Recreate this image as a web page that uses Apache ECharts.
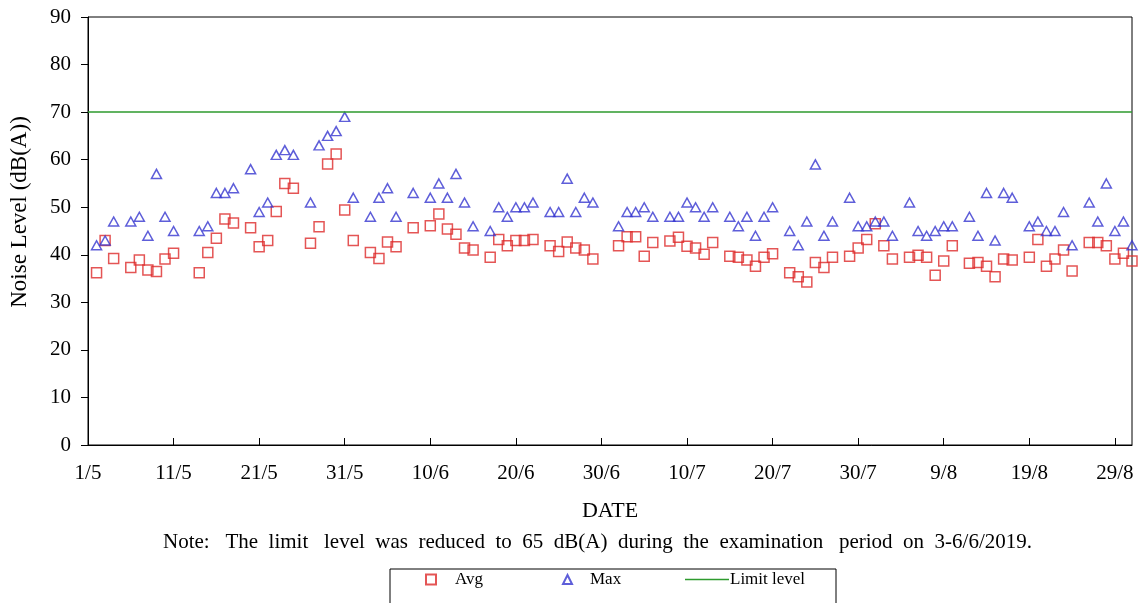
<!DOCTYPE html>
<html lang="en">
    <head>
        <meta charset="UTF-8">
        <script src="https://cdn.jsdelivr.net/npm/echarts@6/dist/echarts.min.js"></script>
        <title>Noise Level</title>
        <style>
            html, body { margin: 0; padding: 0; background: #fff; }
        </style>
    </head>
    <body>
        <div id="chart-container" style="width: 1141px; height: 603px;"></div>

        <script>
            // day offset from 1/5 (index) -> reading, null = no measurement that day
            const avgLevel = [
                null, 36.2, 43.0, 39.2, null, 37.3, 38.9, 36.8, 36.5, 39.1,
                40.3, null, null, 36.2, 40.5, 43.5, 47.5, 46.7, null, 45.7,
                41.7, 43.0, 49.1, 55.0, 54.0, null, 42.4, 45.9, 59.1, 61.2,
                49.4, 43.0, null, 40.5, 39.2, 42.7, 41.7, null, 45.7, null,
                46.1, 48.6, 45.4, 44.3, 41.4, 41.0, null, 39.5, 43.2, 41.9,
                43.0, 43.0, 43.2, null, 41.9, 40.7, 42.7, 41.4, 41.0, 39.1,
                null, null, 41.9, 43.8, 43.8, 39.7, 42.6, null, 42.9, 43.7,
                41.8, 41.4, 40.1, 42.6, null, 39.7, 39.5, 38.9, 37.6, 39.5,
                40.2, null, 36.2, 35.4, 34.3, 38.4, 37.3, 39.5, null, 39.7,
                41.4, 43.2, 46.5, 41.9, 39.1, null, 39.5, 39.9, 39.5, 35.7,
                38.7, 41.9, null, 38.2, 38.4, 37.6, 35.4, 39.1, 38.9, null,
                39.5, 43.2, 37.6, 39.1, 41.0, 36.6, null, 42.6, 42.6, 41.9,
                39.1, 40.3, 38.7
            ];
            const maxLevel = [
                null, 42, 43, 47, null, 47, 48, 44, 57, 48,
                45, null, null, 45, 46, 53, 53, 54, null, 58,
                49, 51, 61, 62, 61, null, 51, 63, 65, 66,
                69, 52, null, 48, 52, 54, 48, null, 53, null,
                52, 55, 52, 57, 51, 46, null, 45, 50, 48,
                50, 50, 51, null, 49, 49, 56, 49, 52, 51,
                null, null, 46, 49, 49, 50, 48, null, 48, 48,
                51, 50, 48, 50, null, 48, 46, 48, 44, 48,
                50, null, 45, 42, 47, 59, 44, 47, null, 52,
                46, 46, 47, 47, 44, null, 51, 45, 44, 45,
                46, 46, null, 48, 44, 53, 43, 53, 52, null,
                46, 47, 45, 45, 49, 42, null, 51, 47, 55,
                45, 47, 42
            ];
            const limitLevel = 70;
            const tickLabels = ['1/5', '11/5', '21/5', '31/5', '10/6', '20/6', '30/6',
                                '10/7', '20/7', '30/7', '9/8', '19/8', '29/8'];
            const lastDay = avgLevel.length - 1;

            const toPoints = arr => arr.map((v, i) => [i, v]).filter(p => p[1] !== null);
            const limitData = avgLevel.map((v, i) => [i, limitLevel]);

            const serif = '"Liberation Serif", "Times New Roman", serif';

            const chart = echarts.init(document.getElementById('chart-container'));
            const options = {
                animation: false,
                grid: {
                    left: 88, right: 9, top: 17, bottom: 158,
                    show: true, borderColor: '#000', borderWidth: 1
                },
                xAxis: {
                    type: 'value',
                    min: 0, max: lastDay, interval: 10,
                    name: 'DATE',
                    nameLocation: 'middle',
                    nameGap: 55,
                    nameTextStyle: { fontFamily: serif, fontSize: 22, color: '#000' },
                    axisLine: { lineStyle: { color: '#000' } },
                    axisTick: { inside: true, length: 7, lineStyle: { color: '#000' } },
                    axisLabel: {
                        fontFamily: serif, fontSize: 21, color: '#000', margin: 18,
                        showMaxLabel: false,
                        formatter: v => (v % 10 === 0 ? tickLabels[v / 10] : '')
                    },
                    splitLine: { show: false }
                },
                yAxis: {
                    type: 'value',
                    min: 0, max: 90, interval: 10,
                    axisLine: { show: true, lineStyle: { color: '#000' } },
                    axisTick: { show: true, length: 7, lineStyle: { color: '#000' } },
                    axisLabel: { fontFamily: serif, fontSize: 21, color: '#000', margin: 17 },
                    splitLine: { show: false }
                },
                title: {
                    text: 'Note:   The  limit   level  was  reduced  to  65  dB(A)  during  the  examination   period  on  3-6/6/2019.',
                    left: 158,
                    top: 527,
                    textStyle: { fontFamily: serif, fontSize: 21, fontWeight: 'normal', color: '#000' }
                },
                legend: [{
                    data: ['Avg'], left: 420, top: 566,
                    itemWidth: 10, itemHeight: 10,
                    textStyle: { fontFamily: serif, fontSize: 17, color: '#000', padding: [0, 0, 0, 14] }
                }, {
                    data: ['Max'], left: 557, top: 566,
                    itemWidth: 9, itemHeight: 9,
                    textStyle: { fontFamily: serif, fontSize: 17, color: '#000', padding: [0, 0, 0, 13] }
                }, {
                    data: [{ name: 'Limit level', icon: 'rect' }], left: 680, top: 566,
                    itemWidth: 44, itemHeight: 1.5, symbolKeepAspect: false,
                    textStyle: { fontFamily: serif, fontSize: 17, color: '#000', padding: [0, 0, 0, -4] }
                }],
                graphic: [{
                    type: 'rect',
                    shape: { x: 390, y: 569, width: 446, height: 45 },
                    style: { fill: 'none', stroke: '#000', lineWidth: 1 },
                    silent: true
                }, {
                    type: 'text',
                    x: 20, y: 212,
                    rotation: Math.PI / 2,
                    style: {
                        text: 'Noise Level (dB(A))',
                        font: '23px ' + serif,
                        fill: '#000',
                        align: 'center',
                        verticalAlign: 'middle'
                    }
                }],
                series: [{
                    name: 'Avg',
                    type: 'scatter',
                    data: toPoints(avgLevel),
                    symbol: 'rect',
                    symbolSize: 10,
                    itemStyle: { color: 'transparent', borderColor: '#dd2a2a', borderWidth: 1.5 }
                }, {
                    name: 'Max',
                    type: 'scatter',
                    data: toPoints(maxLevel),
                    symbol: 'triangle',
                    symbolSize: [10, 9],
                    itemStyle: { color: 'transparent', borderColor: '#3636cf', borderWidth: 1.5 }
                }, {
                    name: 'Limit level',
                    type: 'line',
                    data: limitData,
                    showSymbol: false,
                    lineStyle: { color: '#2e9b2e', width: 1.5 },
                    itemStyle: { color: '#2e9b2e' }
                }]
            };
            chart.setOption(options);
        </script>
    </body>
</html>
